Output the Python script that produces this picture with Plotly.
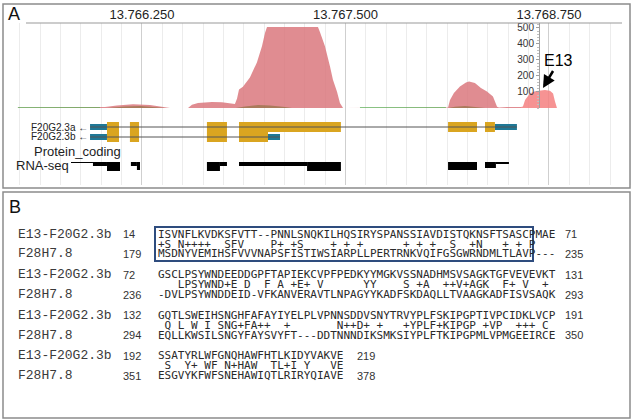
import plotly.graph_objects as go

W, H = 633, 420

# ---------------- panel A: genome browser view ----------------
view_bp = [13765378, 13769266]
major_tick0 = 13766250

# RNA coverage (reads) along the locus
cov_bp = [13765488, 13765746, 13765992, 13766023, 13766096, 13766195, 13766299, 13766373,
          13766422, 13766533, 13766557, 13766594, 13766680, 13766741, 13766791, 13766821,
          13766834, 13766846, 13766870, 13766913, 13766956, 13766987, 13767006, 13767018,
          13767159, 13767331, 13767343, 13767374, 13767405, 13767423, 13767448, 13767466,
          13767485, 13767577, 13767589, 13767835, 13768117, 13768130, 13768142, 13768166,
          13768203, 13768240, 13768259, 13768295, 13768332, 13768369, 13768406, 13768431,
          13768443, 13768492, 13768578]
cov_reads = [3, 3, 4, 6, 16, 24, 18, 8,
             0, 0, 20, 32, 38, 36, 32, 25,
             60, 115, 133, 190, 285, 386, 470, 506,
             506, 506, 475, 386, 260, 177, 101, 32,
             0, 0, 4, 4, 4, 3, 50, 93,
             135, 160, 166, 156, 125, 103, 72, 8,
             3, 6, 6]

# E13 peak
e13_bp = [13768578, 13768590, 13768603, 13768633, 13768664, 13768695, 13768725,
          13768756, 13768775, 13768787, 13768799]
e13_reads = [6, 10, 50, 90, 105, 110, 112, 108, 90, 40, 0]

# second (darker) coverage layer close to the baseline
low_bp = [13766041, 13766146, 13766238, 13766330, 13766391, 13766827, 13766883, 13766963,
          13767036, 13767128, 13767171, 13768130, 13768173, 13768234, 13768314, 13768357]
low_reads = [0, 10, 12, 6, 0, 0, 10, 18, 16, 6, 0, 0, 8, 12, 6, 0]

# faint green baseline signal
green_bp = [13765488, 13765992, None, 13767589, 13768117]
green_reads = [3, 3, None, 3, 3]

# gene models (bp)
cds_a = [(13766035, 13766109), (13766176, 13766232), (13766649, 13766772),
         (13766846, 13767472), (13768130, 13768308), (13768357, 13768418)]
utr_a = [(13765931, 13766035), (13768418, 13768553)]
cds_b = [(13766035, 13766109), (13766176, 13766232), (13766649, 13766772),
         (13766846, 13767024)]
utr_b = [(13765931, 13766035), (13767024, 13767098)]
gene_names = ["F20G2.3a", "F20G2.3b"]

# RNA-seq read blocks
rna_start = [13765814, 13765949, 13766035, 13766182, 13766219, 13766649, 13766729,
             13766846, 13767264, 13768130, 13768357, 13768424]
rna_end = [13765949, 13766035, 13766115, 13766219, 13766238, 13766729, 13766772,
           13767264, 13767472, 13768308, 13768424, 13768504]
rna_depth = [1, 4, 9, 4, 8, 9, 4, 4, 9, 8, 6, 2]

scale_ticks = [100, 200, 300, 400, 500]

# ---------------- panel B: alignment ----------------
query_name = "E13-F20G2.3b"
subject_name = "F28H7.8"
q_start = [14, 72, 132, 192]
q_end = [71, 131, 191, 219]
s_start = [179, 236, 294, 351]
s_end = [235, 293, 350, 378]
q_seq = [
    "ISVNFLKVDKSFVTT--PNNLSNQKILHQSIRYSPANSSIAVDISTQKNSFTSASCPMAE",
    "GSCLPSYWNDEEDDGPFTAPIEKCVPFPEDKYYMGKVSSNADHMSVSAGKTGFVEVEVKT",
    "GQTLSWEIHSNGHFAFAYIYELPLVPNNSDDVSNYTRVYPLFSKIPGPTIVPCIDKLVCP",
    "SSATYRLWFGNQHAWFHTLKIDYVAKVE",
]
mid_seq = [
    "+S N++++  " "SFV    P+ " "+S    + + " "+      + +" " +  S  +N " "  + + P   ",
    "   LPSYWND" "+E D  F A " "+E+ V     " " YY    S +" "A  ++V+AGK" "  F+ V  + ",
    " Q L W I S" "NG+FA++  +" "       N++" "D+ +   +YP" "LF+KIPGP +" "VP  +++ C ",
    " S  Y+ WF " "N+HAW  TL+" "I Y   VE",
]
s_seq = [
    "MSDNYVEMIHSFVVVNAPSFISTIWSIARPLLPERTRNKVQIFGSGWRNDMLTLAVP---",
    "-DVLPSYWNDDEID-VFKANVERAVTLNPAGYYKADFSKDAQLLTVAAGKADFISVSAQK",
    "EQLLKWSILSNGYFAYSVYFT---DDTNNNDIKSMKSIYPLFTKIPGPMLVPMGEEIRCE",
    "ESGVYKFWFSNEHAWIQTLRIRYQIAVE",
]


def xp(px):
    return px / W


def yp(py):
    return 1 - py / H


SANS = "Liberation Sans, Arial"
MONO = "DejaVu Sans Mono"


def note(text, x, y, size, family=SANS, color="#222", xanchor="left"):
    return dict(text=text.replace(" ", "\u00a0"), x=xp(x), y=yp(y), xref="paper",
                yref="paper", showarrow=False, xanchor=xanchor, yanchor="middle",
                borderpad=0, font=dict(size=size, family=family, color=color))


def blocks(spans, row, height, color):
    return go.Bar(
        x=[(s + e) / 2 for s, e in spans], width=[e - s for s, e in spans],
        base=[row - height / 2] * len(spans), y=[height] * len(spans),
        xaxis="x", yaxis="y2", marker=dict(color=color, line=dict(width=0)),
        hoverinfo="skip")


fig = go.Figure()

fig.add_trace(go.Scatter(x=cov_bp, y=cov_reads, mode="lines", fill="tozeroy",
                         line=dict(width=0, color="rgba(219,120,126,0.85)"),
                         fillcolor="rgba(219,120,126,0.85)", hoverinfo="skip"))
fig.add_trace(go.Scatter(x=e13_bp, y=e13_reads, mode="lines", fill="tozeroy",
                         line=dict(width=0, color="rgba(245,128,128,0.85)"),
                         fillcolor="rgba(245,128,128,0.85)", hoverinfo="skip"))
fig.add_trace(go.Scatter(x=low_bp, y=low_reads, mode="lines", fill="tozeroy",
                         line=dict(width=0, color="rgba(115,105,40,0.5)"),
                         fillcolor="rgba(115,105,40,0.5)", hoverinfo="skip"))
fig.add_trace(go.Scatter(x=green_bp, y=green_reads, mode="lines",
                         line=dict(width=1.2, color="rgba(90,175,85,0.7)"),
                         hoverinfo="skip"))

# gene models
ROW_A, ROW_B, ROW_RNA = 127, 137, 162
for row, cds, utr in [(ROW_A, cds_a, utr_a), (ROW_B, cds_b, utr_b)]:
    lo = min(s for s, _ in cds + utr)
    hi = max(e for _, e in cds + utr)
    fig.add_trace(go.Scatter(x=[lo, hi], y=[row, row], xaxis="x", yaxis="y2", mode="lines",
                             line=dict(color="#555555", width=1), hoverinfo="skip"))
    fig.add_trace(blocks(utr, row, 6, "#1f7896"))
    fig.add_trace(blocks(cds, row, 10, "#daa520"))

fig.add_trace(go.Bar(
    x=[(s + e) / 2 for s, e in zip(rna_start, rna_end)],
    width=[e - s for s, e in zip(rna_start, rna_end)],
    base=[ROW_RNA] * len(rna_depth), y=rna_depth, xaxis="x", yaxis="y2",
    marker=dict(color="black", line=dict(width=0)), hoverinfo="skip"))

annotations = [
    note("A", 7, 14, 18, color="#111"),
    note(gene_names[0] + " \u2190", 89, ROW_A, 10, xanchor="right"),
    note(gene_names[1] + " \u2190", 89, ROW_B, 10, xanchor="right"),
    note("Protein_coding", 33, 151, 13),
    note("RNA-seq", 15, 166, 13),
    dict(text="E13", x=13768713, y=125, xref="x", yref="y", ax=16, ay=-27,
         showarrow=True, arrowhead=2, arrowsize=1, arrowwidth=2.5, arrowcolor="black",
         font=dict(size=16, family=SANS, color="black")),
    note("B", 8, 207, 18, color="#111"),
]

ROW_Y0, ROW_DY = 234, 40.6
end_x = [564, 564, 564, 356]
for i in range(4):
    yq = ROW_Y0 + ROW_DY * i
    ym, ys = yq + 10, yq + 20
    annotations += [
        note(query_name, 17, yq, 13, family="Liberation Mono", color="#3a3a3a"),
        note(subject_name, 17, ys, 13, family="Liberation Mono", color="#3a3a3a"),
        note(str(q_start[i]), 122, yq, 11, color="#333"),
        note(str(s_start[i]), 122, ys, 11, color="#333"),
        note(q_seq[i], 157, yq, 11, family=MONO, color="#2a2a2a"),
        note(mid_seq[i], 157, ym, 11, family=MONO, color="#2a2a2a"),
        note(s_seq[i], 157, ys, 11, family=MONO, color="#2a2a2a"),
        note(str(q_end[i]), end_x[i], yq, 11, color="#333"),
        note(str(s_end[i]), end_x[i], ys, 11, color="#333"),
    ]

frame = dict(color="#8c8c8c", width=1.5)
shapes = [
    dict(type="rect", xref="paper", yref="paper", x0=xp(3), x1=xp(630), y0=yp(4), y1=yp(188),
         line=frame),
    dict(type="rect", xref="paper", yref="paper", x0=xp(3), x1=xp(630), y0=yp(192), y1=yp(418),
         line=frame),
    dict(type="line", xref="paper", yref="paper", x0=xp(26), x1=xp(622), y0=yp(23), y1=yp(23),
         line=dict(color="#999999", width=1)),
    dict(type="rect", xref="paper", yref="paper", x0=xp(155), x1=xp(533), y0=yp(227),
         y1=yp(261), line=dict(color="#2e4c7e", width=2)),
]

fig.update_layout(
    width=W, height=H, margin=dict(l=0, r=0, t=0, b=0),
    paper_bgcolor="white", plot_bgcolor="white", showlegend=False,
    barmode="overlay", separators=",.",
    font=dict(family=SANS, color="#222"),
    annotations=annotations, shapes=shapes,
    xaxis=dict(domain=[0, 1], range=view_bp, side="top", anchor="y", showline=False,
               zeroline=False, tick0=major_tick0, dtick=1250, tickformat=",d", ticks="",
               showgrid=True, gridcolor="#cfcfcf", gridwidth=1,
               minor=dict(tick0=major_tick0, dtick=125, showgrid=True, gridcolor="#ececec"),
               tickfont=dict(size=13, family=SANS, color="#222")),
    yaxis=dict(domain=[yp(108), yp(23)], range=[0, 531], anchor="free", position=xp(539),
               side="left", showline=True, linecolor="#a0a0a0", ticks="outside", ticklen=3,
               tickcolor="#a0a0a0", tickvals=scale_ticks, showgrid=False, zeroline=False,
               tickfont=dict(size=10, family=SANS, color="#333"),
               minor=dict(ticks="outside", ticklen=2, dtick=20, tickcolor="#c0c0c0")),
    yaxis2=dict(domain=[yp(185), yp(108)], range=[185, 108], anchor="x", visible=False,
                showgrid=False, zeroline=False),
)

# the page's default body margin would shift the figure by 8px
fig.write_html("out.html", config={"displayModeBar": False},
               post_script="document.body.style.margin = '0';")
